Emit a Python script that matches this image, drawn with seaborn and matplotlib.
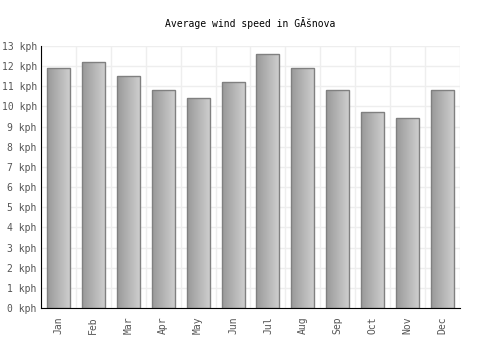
import numpy as np
import pandas as pd
import seaborn as sns
import matplotlib.pyplot as plt

months = ["Jan", "Feb", "Mar", "Apr", "May", "Jun",
          "Jul", "Aug", "Sep", "Oct", "Nov", "Dec"]
wind_kph = [11.9, 12.2, 11.5, 10.8, 10.4, 11.2,
            12.6, 11.9, 10.8, 9.7, 9.4, 10.8]
y_ticks = list(range(0, 14))
y_labels = [f"{v} kph" for v in y_ticks]

df = pd.DataFrame({"month": months, "wind": wind_kph})

sns.set_style("white")
plt.rcParams["font.family"] = ["DejaVu Sans Mono"]

fig = plt.figure(figsize=(5, 3.5), dpi=100)
ax = fig.add_axes([0.082, 0.12, 0.838, 0.749])

sns.barplot(data=df, x="month", y="wind", ax=ax, width=0.66,
            color="#b0b0b0", edgecolor="#808080", linewidth=1, zorder=3)

# gradient fill inside each bar
grad = np.linspace(0, 1, 64).reshape(1, -1)
cmap = plt.matplotlib.colors.LinearSegmentedColormap.from_list("g", ["#999999", "#d0d0d0"])
for p in ax.patches:
    x0, y0 = p.get_x(), p.get_y()
    w, h = p.get_width(), p.get_height()
    p.set_facecolor("none")
    im = ax.imshow(grad, cmap=cmap, extent=[x0, x0 + w, y0, y0 + h],
                   aspect="auto", zorder=2.5, interpolation="bilinear")
    im.set_clip_path(p)

ax.set_xlim(-0.5, 11.5)
ax.set_ylim(0, 13)
ax.set_yticks(y_ticks)
ax.set_yticklabels(y_labels)
ax.set_xticks(np.arange(-0.5, 12, 1), minor=True)
ax.grid(False)
ax.grid(True, which="minor", axis="x", color="#eeeeee", linewidth=1, zorder=0)
ax.grid(True, which="major", axis="y", color="#eeeeee", linewidth=1, zorder=0)
ax.tick_params(axis="x", which="both", length=0, labelrotation=90, labelsize=7, colors="#555555", pad=6)
ax.tick_params(axis="y", length=0, labelsize=7, colors="#555555", pad=3)
ax.set_xlabel("")
ax.set_ylabel("")

ax.spines["top"].set_visible(False)
ax.spines["right"].set_visible(False)
ax.spines["left"].set_color("black")
ax.spines["bottom"].set_color("black")
ax.spines["left"].set_zorder(4)
ax.spines["bottom"].set_zorder(4)

fig.text(0.5, 0.935, "Average wind speed in GĂšnova", ha="center", va="center",
         fontsize=7, color="black")

fig.savefig("out.png", dpi=100)
